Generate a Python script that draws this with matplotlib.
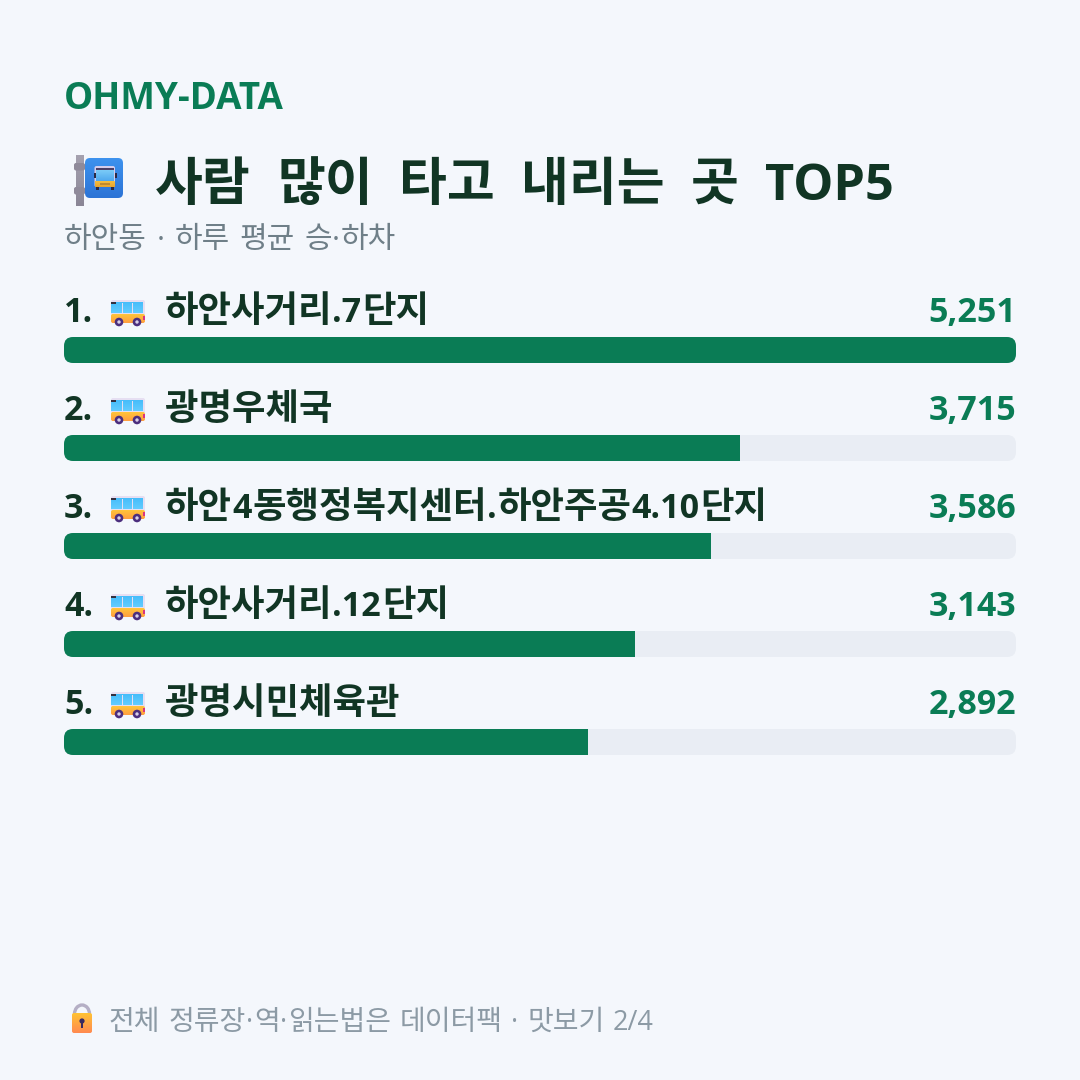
#!/usr/bin/env python3

import re
import numpy as np
import matplotlib
matplotlib.use('Agg')
import matplotlib.pyplot as plt
from matplotlib.colors import to_rgb
from matplotlib.font_manager import FontProperties
from matplotlib.patches import Circle, FancyBboxPatch, Rectangle, Arc

LATIN_FONT = 'Open Sans'
HANGUL_FONT = 'Noto Sans CJK KR'
plt.rcParams['font.family'] = [LATIN_FONT, HANGUL_FONT, 'DejaVu Sans']

brand = 'OHMY-DATA'
title = '사람 많이 타고 내리는 곳 TOP5'
subtitle = '하안동 · 하루 평균 승·하차'
footer = '전체 정류장·역·읽는법은 데이터팩 · 맛보기 2/4'
stops = ['하안사거리.7단지', '광명우체국', '하안4동행정복지센터.하안주공4.10단지', '하안사거리.12단지', '광명시민체육관']
riders = [5251, 3715, 3586, 3143, 2892]

BG = '#F4F7FC'
GREEN = '#0A7C55'
TRACK = '#E9EDF4'
DARK = '#113524'
SUB = '#6F7F88'
FOOT = '#8C9AA5'

ROW_PITCH = 98
BAR_H = 26
BAR_LEFT = 64
BAR_RIGHT = 1016
BAR_TOP = 337
RADIUS = 9
HANGUL_ADVANCE = 0.92  # em width of a Hangul syllable


def px(size):
    # font sizes below are given in pixels
    return size * 72 / 100


def draw_runs(ax, x, y, text, hangul, latin, space, weight='normal', color='k'):
    """Lay out mixed Hangul and Latin text run by run, returns the end x"""
    renderer = ax.figure.canvas.get_renderer()
    for run in re.findall(r'[가-힣]+|\s+|[^가-힣\s]+', text):
        if run.isspace():
            x += space * len(run)
        elif re.match(r'[가-힣]', run):
            ax.text(x, y, run, fontsize=px(hangul), fontweight=weight, color=color, va='baseline', family=HANGUL_FONT)
            x += HANGUL_ADVANCE * hangul * len(run)
        else:
            fp = FontProperties(family=LATIN_FONT, weight=weight, size=px(latin))
            w = renderer.get_text_width_height_descent(run, fp, False)[0]
            ax.text(x, y, run, fontproperties=fp, color=color, va='baseline')
            x += w + 1
    return x


def round_box(x0, y0, x1, y1, r, **kw):
    return FancyBboxPatch((x0 + r, y0 + r), x1 - x0 - 2 * r, y1 - y0 - 2 * r,
                          boxstyle=f'round,pad={r},rounding_size={r}', linewidth=0, **kw)


def gradient_box(ax, x0, y0, x1, y1, top, bottom, r=0, zorder=3):
    c0, c1 = np.array(to_rgb(top)), np.array(to_rgb(bottom))
    t = np.linspace(0, 1, 32)[:, None, None]
    img = c0[None, None, :] * (1 - t) + c1[None, None, :] * t
    im = ax.imshow(img, extent=(x0, x1, y1, y0), aspect='auto', zorder=zorder, interpolation='bilinear')
    if r:
        clip = round_box(x0, y0, x1, y1, r, transform=ax.transData, facecolor='none')
        im.set_clip_path(clip)


def draw_bus(ax, x, y):
    # small side-view bus, x and y are its top left corner
    ax.add_patch(round_box(x, y, x + 34, y + 18, 2, facecolor='#E6DFF2', zorder=3))
    gradient_box(ax, x, y + 14, x + 34, y + 23, '#FFC53A', '#FF9E40', r=2, zorder=4)
    gradient_box(ax, x, y + 2.5, x + 32, y + 13.5, '#46BDFA', '#62CCFF', zorder=4)
    for wx in (x + 10.5, x + 20.5):
        ax.add_patch(Rectangle((wx, y + 2.5), 1.6, 11, facecolor='#E6DFF2', linewidth=0, zorder=5))
    ax.add_patch(Rectangle((x, y + 1.5), 5, 2.5, facecolor='#33303F', linewidth=0, zorder=5))
    ax.add_patch(Rectangle((x + 32, y + 15.5), 2, 4, facecolor='#D9357F', linewidth=0, zorder=5))
    for cx in (x + 8, x + 26):
        ax.add_patch(Circle((cx, y + 22), 4.3, facecolor='#4B2E7E', linewidth=0, zorder=6))
        ax.add_patch(Circle((cx, y + 22), 1.7, facecolor='#D8D0E8', linewidth=0, zorder=7))


def draw_stop_sign(ax):
    # bus stop sign next to the title
    gradient_box(ax, 76, 155, 84, 206, '#A5A1AF', '#8A8696', zorder=3)
    for y in (163, 187):
        ax.add_patch(round_box(74, y, 85, y + 7.5, 2, facecolor='#8F8A9A', zorder=3))
    gradient_box(ax, 85, 158, 123, 198, '#3D92EE', '#2C74D6', r=5, zorder=4)
    ax.add_patch(round_box(94.5, 166, 115, 187, 2, facecolor='#D4CCEB', zorder=6))
    gradient_box(ax, 96, 170, 113.5, 181, '#7BCBF7', '#4FA8EE', zorder=7)
    ax.add_patch(Rectangle((96, 167.5), 17.5, 2, facecolor='#4A3F66', linewidth=0, zorder=7))
    gradient_box(ax, 94.5, 181, 115, 187.5, '#F5C243', '#E8A52E', r=1, zorder=8)
    ax.add_patch(Rectangle((100, 182.5), 9.5, 2.5, facecolor='#C08A2E', linewidth=0, zorder=9))
    for x in (95.5, 110.5):
        ax.add_patch(Rectangle((x, 187), 3.5, 3, facecolor='#2B2A44', linewidth=0, zorder=7))
    for x in (93.5, 115):
        ax.add_patch(Rectangle((x, 173), 2, 5, facecolor='#2B2A44', linewidth=0, zorder=7))


def draw_lock(ax):
    ax.add_patch(Arc((82, 1014), 15, 18, theta1=180, theta2=360, edgecolor='#B5AFC5', linewidth=2.4, zorder=3))
    gradient_box(ax, 72, 1013, 92, 1033, '#FFC233', '#FF8A50', r=2, zorder=4)
    ax.add_patch(Circle((82, 1021), 2.6, facecolor='#3A2A60', linewidth=0, zorder=5))
    ax.add_patch(Rectangle((81, 1022), 2, 5.5, facecolor='#3A2A60', linewidth=0, zorder=5))


def draw_bars(fig, overlay):
    n = len(riders)
    h = BAR_TOP, BAR_TOP + ROW_PITCH * (n - 1) + BAR_H
    ax = fig.add_axes([BAR_LEFT / 1080, 1 - h[1] / 1080, (BAR_RIGHT - BAR_LEFT) / 1080, (h[1] - h[0]) / 1080])
    ax.axis('off')
    ax.set_xlim(0, 100)
    half = BAR_H / ROW_PITCH / 2
    ax.set_ylim(n - 1 + half, -half)

    # widths are whole percents of the busiest stop
    pct = np.round(np.array(riders) / max(riders) * 100)
    y = np.arange(n)
    tracks = ax.barh(y, [100] * n, height=BAR_H / ROW_PITCH, color=TRACK, linewidth=0, zorder=1)
    fills = ax.barh(y, pct, height=BAR_H / ROW_PITCH, color=GREEN, linewidth=0, zorder=2)

    for i in range(n):
        top = BAR_TOP + ROW_PITCH * i
        clip = round_box(BAR_LEFT, top, BAR_RIGHT, top + BAR_H, RADIUS, transform=overlay.transData, facecolor='none')
        tracks[i].set_clip_path(clip)
        fills[i].set_clip_path(clip)


def main():
    fig = plt.figure(figsize=(10.8, 10.8), dpi=100, facecolor=BG)

    # full-figure layer in pixel coordinates for text and icons
    overlay = fig.add_axes([0, 0, 1, 1], zorder=3)
    overlay.axis('off')
    overlay.patch.set_alpha(0)

    overlay.text(64, 109, brand, fontsize=px(36.7), fontweight='bold', color=GREEN, va='baseline')
    draw_runs(overlay, 155, 200, title, 52, 50.5, 26.4, weight='bold', color=DARK)
    draw_runs(overlay, 64, 248, subtitle, 30, 30, 9.5, color=SUB)
    draw_stop_sign(overlay)

    for i, (stop, count) in enumerate(zip(stops, riders)):
        base = 322 + ROW_PITCH * i
        overlay.text(64, base, f'{i + 1}.', fontsize=px(34), fontweight='bold', color=DARK, va='baseline')
        draw_runs(overlay, 165, base, stop, 36.4, 34, 10, weight='bold', color=DARK)
        overlay.text(1016, base, f'{count:,}', fontsize=px(34), fontweight='bold', color=GREEN, va='baseline', ha='right')
        draw_bus(overlay, 111, 300 + ROW_PITCH * i)

    draw_lock(overlay)
    draw_runs(overlay, 109, 1030, footer, 28, 27, 8.3, color=FOOT)

    overlay.set_xlim(0, 1080)
    overlay.set_ylim(1080, 0)

    draw_bars(fig, overlay)

    fig.savefig('out.png', dpi=100, facecolor=BG)


if __name__ == '__main__':
    main()
